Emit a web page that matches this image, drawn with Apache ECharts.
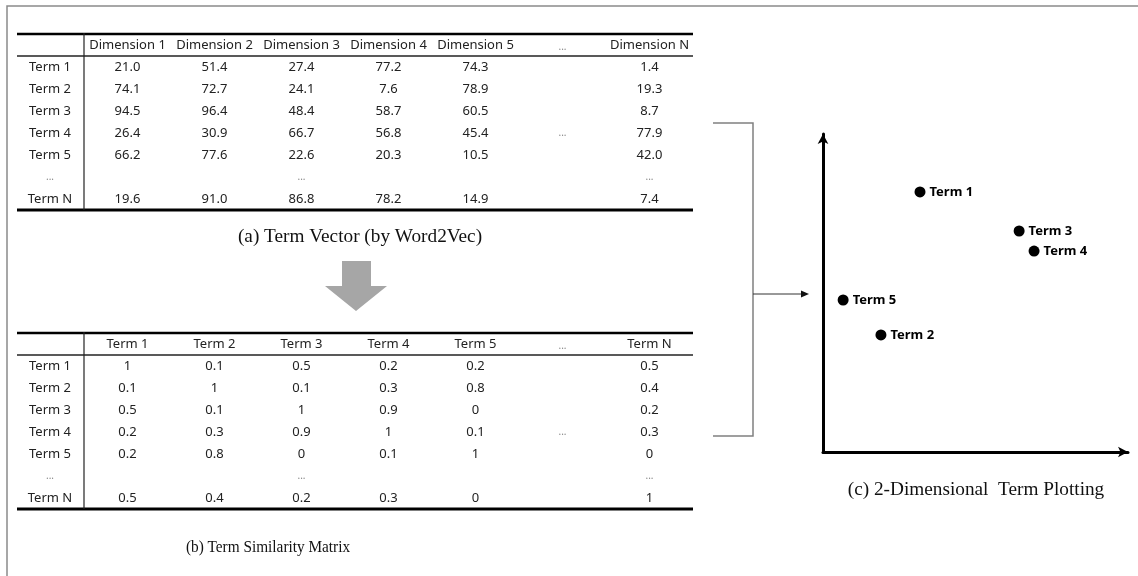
<!DOCTYPE html>
<html><head><meta charset="utf-8">
<script src="https://cdn.jsdelivr.net/npm/echarts@6/dist/echarts.min.js"></script>
<style>html,body{margin:0;padding:0;background:#fff}#c{width:1138px;height:576px}</style>
</head><body><div id="c"></div>
<script>
// ---------- data ----------
const vecColumns = ['Dimension 1','Dimension 2','Dimension 3','Dimension 4','Dimension 5','...','Dimension N'];
const simColumns = ['Term 1','Term 2','Term 3','Term 4','Term 5','...','Term N'];
const termRows = ['Term 1','Term 2','Term 3','Term 4','Term 5','...','Term N'];
// values for columns 1-5 and N
const vecTerm1 = [21.0, 51.4, 27.4, 77.2, 74.3, 1.4];
const vecTerm2 = [74.1, 72.7, 24.1, 7.6, 78.9, 19.3];
const vecTerm3 = [94.5, 96.4, 48.4, 58.7, 60.5, 8.7];
const vecTerm4 = [26.4, 30.9, 66.7, 56.8, 45.4, 77.9];
const vecTerm5 = [66.2, 77.6, 22.6, 20.3, 10.5, 42.0];
const vecTermN = [19.6, 91.0, 86.8, 78.2, 14.9, 7.4];
const simTerm1 = [1, 0.1, 0.5, 0.2, 0.2, 0.5];
const simTerm2 = [0.1, 1, 0.1, 0.3, 0.8, 0.4];
const simTerm3 = [0.5, 0.1, 1, 0.9, 0, 0.2];
const simTerm4 = [0.2, 0.3, 0.9, 1, 0.1, 0.3];
const simTerm5 = [0.2, 0.8, 0, 0.1, 1, 0];
const simTermN = [0.5, 0.4, 0.2, 0.3, 0, 1];
// ellipsis cells [col, row]
const ellipsisCells = [[5, 3], [2, 5], [6, 5]];
// 2-D plotting
const plotTerms = ['Term 1', 'Term 2', 'Term 3', 'Term 4', 'Term 5'];
const plotX = [31.8, 19.0, 64.3, 69.2, 6.6];
const plotY = [81.8, 36.8, 69.5, 63.2, 47.8];

// ---------- build ----------
const valueCols = [0, 1, 2, 3, 4, 6];
const valueRows = [0, 1, 2, 3, 4, 6];
function buildCells(rows, fmt) {
  const out = [];
  rows.forEach((vals, ri) => {
    vals.forEach((v, ci) => {
      out.push({ value: [valueCols[ci], valueRows[ri]], text: fmt(v) });
    });
  });
  ellipsisCells.forEach(([c, r]) => {
    out.push({ value: [c, r], text: '...', label: { color: '#888', fontSize: 10 } });
  });
  return out;
}
const vecCells = buildCells([vecTerm1, vecTerm2, vecTerm3, vecTerm4, vecTerm5, vecTermN], v => v.toFixed(1));
const simCells = buildCells([simTerm1, simTerm2, simTerm3, simTerm4, simTerm5, simTermN], v => String(v));

const FONT = '"Noto Sans", "DejaVu Sans", sans-serif';
const SERIF = '"Liberation Serif", "DejaVu Serif", serif';
const TXT = '#222';

const tableLeft = 84, tableWidth = 609, ruleLeft = 17, ruleRight = 693;
const tA = { top: 56, height: 154, head: 34 };
const tB = { top: 355, height: 154, head: 333 };

function smallDots(v) { return v === '...' ? '{d|...}' : v; }

function tableAxes(gi, cols) {
  return {
    x: {
      type: 'category', gridIndex: gi, data: cols, position: 'top',
      axisLine: { show: false }, axisTick: { show: false }, splitLine: { show: false },
      axisLabel: {
        interval: 0, margin: 4, fontFamily: FONT, fontSize: 13, color: TXT,
        formatter: smallDots, rich: { d: { fontSize: 10, color: '#888', fontFamily: FONT } }
      }
    },
    y: {
      type: 'category', gridIndex: gi, data: termRows, inverse: true,
      axisLine: { show: false }, axisTick: { show: false }, splitLine: { show: false },
      axisLabel: { interval: 0, margin: 34, align: 'center', fontFamily: FONT, fontSize: 13, color: TXT,
        formatter: smallDots, rich: { d: { fontSize: 10, color: '#888', fontFamily: FONT } } }
    }
  };
}
const axA = tableAxes(0, vecColumns);
const axB = tableAxes(1, simColumns);

function cellSeries(gi, data) {
  return {
    type: 'scatter', xAxisIndex: gi, yAxisIndex: gi, data: data,
    symbolSize: 2, itemStyle: { color: 'rgba(0,0,0,0)', opacity: 1 }, silent: true,
    label: { show: true, position: 'inside', opacity: 1, formatter: p => p.data.text, fontFamily: FONT, fontSize: 13, color: TXT }
  };
}

function rules(t) {
  const bottom = t.top + t.height;
  return [
    { type: 'line', shape: { x1: ruleLeft, y1: t.head, x2: ruleRight, y2: t.head }, style: { stroke: '#000', lineWidth: 2.5 } },
    { type: 'line', shape: { x1: ruleLeft, y1: t.top, x2: ruleRight, y2: t.top }, style: { stroke: '#222', lineWidth: 1.5 } },
    { type: 'line', shape: { x1: ruleLeft, y1: bottom, x2: ruleRight, y2: bottom }, style: { stroke: '#000', lineWidth: 3 } },
    { type: 'line', shape: { x1: tableLeft, y1: t.head - 1, x2: tableLeft, y2: bottom }, style: { stroke: '#222', lineWidth: 1.2 } }
  ];
}

const plotAxisLine = {
  show: true, symbol: ['none', 'arrow'], symbolSize: [8, 10],
  lineStyle: { color: '#000', width: 3 }
};

const option = {
  backgroundColor: '#fff',
  animation: false,
  grid: [
    { left: tableLeft, top: tA.top, width: tableWidth, height: tA.height, outerBoundsMode: 'none' },
    { left: tableLeft, top: tB.top, width: tableWidth, height: tB.height, outerBoundsMode: 'none' },
    { left: 823, top: 134, width: 305, height: 318, outerBoundsMode: 'none' }
  ],
  xAxis: [axA.x, axB.x, {
    type: 'value', gridIndex: 2, min: 0, max: 100,
    axisLine: plotAxisLine, axisTick: { show: false }, axisLabel: { show: false }, splitLine: { show: false }
  }],
  yAxis: [axA.y, axB.y, {
    type: 'value', gridIndex: 2, min: 0, max: 100,
    axisLine: plotAxisLine, axisTick: { show: false }, axisLabel: { show: false }, splitLine: { show: false }
  }],
  series: [
    cellSeries(0, vecCells),
    cellSeries(1, simCells),
    {
      type: 'scatter', xAxisIndex: 2, yAxisIndex: 2, symbolSize: 11,
      itemStyle: { color: '#000', opacity: 1 },
      data: plotTerms.map((n, i) => ({ name: n, value: [plotX[i], plotY[i]] })),
      label: { show: true, position: 'right', distance: 4, opacity: 1, formatter: p => p.name,
        fontFamily: FONT, fontWeight: 'bold', fontSize: 13, color: '#000' }
    }
  ],
  graphic: [
    { type: 'rect', shape: { x: 7, y: 6, width: 1150, height: 600 }, style: { fill: 'none', stroke: '#8a8a8a', lineWidth: 1.5 }, silent: true },
    ...rules(tA),
    ...rules(tB),
    { type: 'text', x: 360, y: 237, scaleX: 1.07, style: { text: '(a) Term Vector (by Word2Vec)', font: '18px ' + SERIF, fill: '#111', textAlign: 'center', textVerticalAlign: 'middle' } },
    { type: 'text', x: 268, y: 548, scaleX: 0.9, style: { text: '(b) Term Similarity Matrix', font: '17px ' + SERIF, fill: '#111', textAlign: 'center', textVerticalAlign: 'middle' } },
    { type: 'text', x: 976, y: 490, scaleX: 1.07, style: { text: '(c) 2-Dimensional  Term Plotting', font: '18px ' + SERIF, fill: '#111', textAlign: 'center', textVerticalAlign: 'middle' } },
    { type: 'polygon', shape: { points: [[342, 261], [371, 261], [371, 286], [387, 286], [356, 311], [325, 286], [342, 286]] }, style: { fill: '#a6a6a6' } },
    { type: 'polyline', shape: { points: [[713, 123], [753, 123], [753, 436], [713, 436]] }, style: { stroke: '#808080', lineWidth: 1.5, fill: 'none' } },
    { type: 'line', shape: { x1: 753, y1: 294, x2: 803, y2: 294 }, style: { stroke: '#333', lineWidth: 1 } },
    { type: 'polygon', shape: { points: [[801, 290.5], [809, 294], [801, 297.5]] }, style: { fill: '#111' } }
  ]
};
const chart = echarts.init(document.getElementById('c'), null, { renderer: 'canvas' });
chart.setOption(option);
</script></body></html>
